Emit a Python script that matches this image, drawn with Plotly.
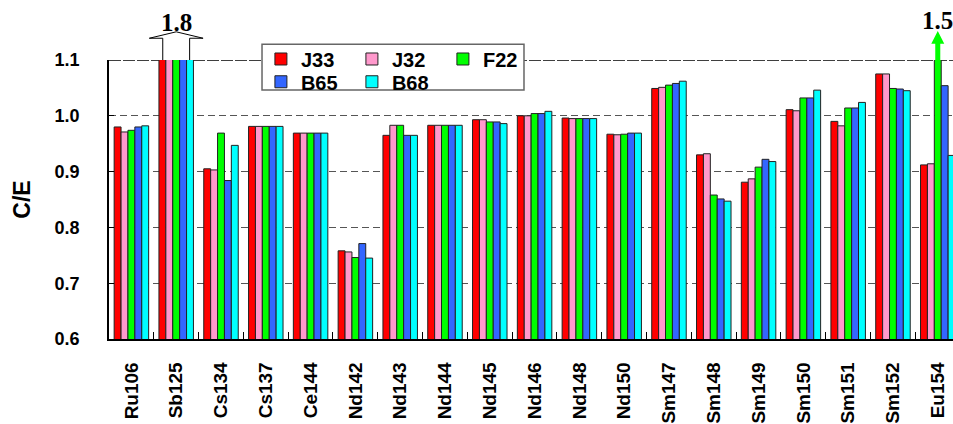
import plotly.graph_objects as go

categories = ["Ru106", "Sb125", "Cs134", "Cs137", "Ce144", "Nd142", "Nd143", "Nd144",
              "Nd145", "Nd146", "Nd148", "Nd150", "Sm147", "Sm148", "Sm149", "Sm150",
              "Sm151", "Sm152", "Eu154"]

J33 = [0.980, 1.8, 0.905, 0.981, 0.969, 0.758, 0.965, 0.983, 0.993, 1.000, 0.996, 0.967,
       1.049, 0.930, 0.881, 1.011, 0.990, 1.075, 0.912]
J32 = [0.971, 1.8, 0.903, 0.981, 0.969, 0.756, 0.983, 0.983, 0.993, 1.000, 0.995, 0.966,
       1.051, 0.932, 0.887, 1.009, 0.982, 1.075, 0.914]
F22 = [0.974, 1.8, 0.969, 0.981, 0.969, 0.746, 0.983, 0.983, 0.989, 1.004, 0.995, 0.967,
       1.055, 0.858, 0.908, 1.032, 1.014, 1.049, 1.5]
B65 = [0.980, 1.8, 0.884, 0.981, 0.969, 0.771, 0.965, 0.983, 0.989, 1.004, 0.995, 0.969,
       1.058, 0.851, 0.922, 1.032, 1.014, 1.048, 1.054]
B68 = [0.982, 1.8, 0.947, 0.981, 0.969, 0.745, 0.965, 0.983, 0.986, 1.008, 0.995, 0.969,
       1.062, 0.847, 0.918, 1.046, 1.024, 1.045, 0.929]

y_ticks = [0.6, 0.7, 0.8, 0.9, 1.0, 1.1]

series = [("J33", J33, "#FF0000", "legend"),
          ("J32", J32, "#FF99CC", "legend"),
          ("F22", F22, "#00FF00", "legend"),
          ("B65", B65, "#3366FF", "legend2"),
          ("B68", B68, "#00FFFF", "legend2")]

xidx = list(range(len(categories)))

fig = go.Figure()
for name, vals, color, lg in series:
    fig.add_trace(go.Bar(x=xidx, y=vals, name=name, legend=lg,
                         marker=dict(color=color, line=dict(color="#222222", width=1))))

font_family = "Liberation Sans, Arial, sans-serif"

fig.update_layout(
    width=953, height=424,
    margin=dict(l=109, r=0, t=60, b=85, autoexpand=False),
    plot_bgcolor="white", paper_bgcolor="white",
    barmode="group", bargap=0.23, bargroupgap=0,
    font=dict(family=font_family, color="black"),
    showlegend=True,
    legend=dict(orientation="h", x=0.18, xanchor="left", y=1.0036, yanchor="middle",
                font=dict(size=20, weight="bold", family=font_family),
                entrywidth=46, bgcolor="rgba(0,0,0,0)", itemclick=False, itemdoubleclick=False),
    legend2=dict(orientation="h", x=0.18, xanchor="left", y=0.922, yanchor="middle",
                 font=dict(size=20, weight="bold", family=font_family),
                 entrywidth=46, bgcolor="rgba(0,0,0,0)", itemclick=False, itemdoubleclick=False),
)

fig.update_xaxes(
    range=[-0.5, 18.34], automargin=False,
    tickmode="array", tickvals=xidx, ticktext=categories,
    tickangle=-90, ticks="", showgrid=False, zeroline=False,
    tickfont=dict(size=19, weight="bold", family=font_family),
    ticklabelstandoff=14,
    showline=True, linecolor="black", linewidth=1.5,
    minor=dict(tickvals=[i + 0.5 for i in range(len(categories) - 1)], ticks="inside",
               ticklen=7, tickcolor="black", tickwidth=1, showgrid=False),
)

fig.update_yaxes(
    range=[0.6, 1.1], automargin=False,
    tickmode="array", tickvals=y_ticks, ticktext=[f"{v:.1f}" for v in y_ticks],
    ticks="inside", ticklen=5, tickcolor="black",
    tickfont=dict(size=18, weight="bold", family=font_family),
    ticklabelstandoff=24,
    showgrid=True, gridcolor="#555555", gridwidth=1, griddash="7px,4px",
    zeroline=False,
    showline=True, linecolor="black", linewidth=1.5,
    title=dict(text="C/E", font=dict(size=23, weight="bold", family=font_family), standoff=18),
)

shapes = []
# top line at 1.1
shapes.append(dict(type="line", xref="paper", yref="y", x0=0, x1=1, y0=1.1, y1=1.1,
                   line=dict(color="black", width=1.3, dash="12px,2px"), layer="below"))
# legend box
shapes.append(dict(type="rect", xref="paper", yref="paper", x0=0.1813, x1=0.4917,
                   y0=0.8925, y1=1.0563, fillcolor="white",
                   line=dict(color="#666666", width=1.5), layer="above"))
# hollow arrow for Sb125 (off-scale 1.8)
c = categories.index("Sb125")
shapes.append(dict(type="path", xref="x", yref="paper",
                   path=(f"M {c-0.3},1.0 L {c-0.3},1.078 L {c-0.6},1.078 L {c},1.101 "
                         f"L {c+0.6},1.078 L {c+0.3},1.078 L {c+0.3},1.0"),
                   fillcolor="rgba(255,255,255,0)", line=dict(color="black", width=1), layer="above"))
# green arrow for Eu154 F22 (off-scale 1.5)
g = categories.index("Eu154")
shapes.append(dict(type="path", xref="x", yref="paper",
                   path=(f"M {g-0.056},1.0 L {g-0.056},1.058 L {g-0.145},1.058 L {g},1.104 "
                         f"L {g+0.145},1.058 L {g+0.056},1.058 L {g+0.056},1.0 Z"),
                   fillcolor="#00FF00", line=dict(color="#00FF00", width=0), layer="above"))
fig.update_layout(shapes=shapes)

fig.add_annotation(x=c, xref="x", y=1.133, yref="paper", text="1.8", showarrow=False,
                   font=dict(family="Liberation Serif, Times New Roman, serif", size=25,
                             weight="bold", color="black"), yanchor="middle")
fig.add_annotation(x=g, xref="x", y=1.14, yref="paper", text="1.5", showarrow=False,
                   font=dict(family="Liberation Serif, Times New Roman, serif", size=25,
                             weight="bold", color="black"), yanchor="middle")

fig.write_html("out.html", config={"displayModeBar": False},
               post_script="document.body.style.margin='0';document.body.style.padding='0';")
